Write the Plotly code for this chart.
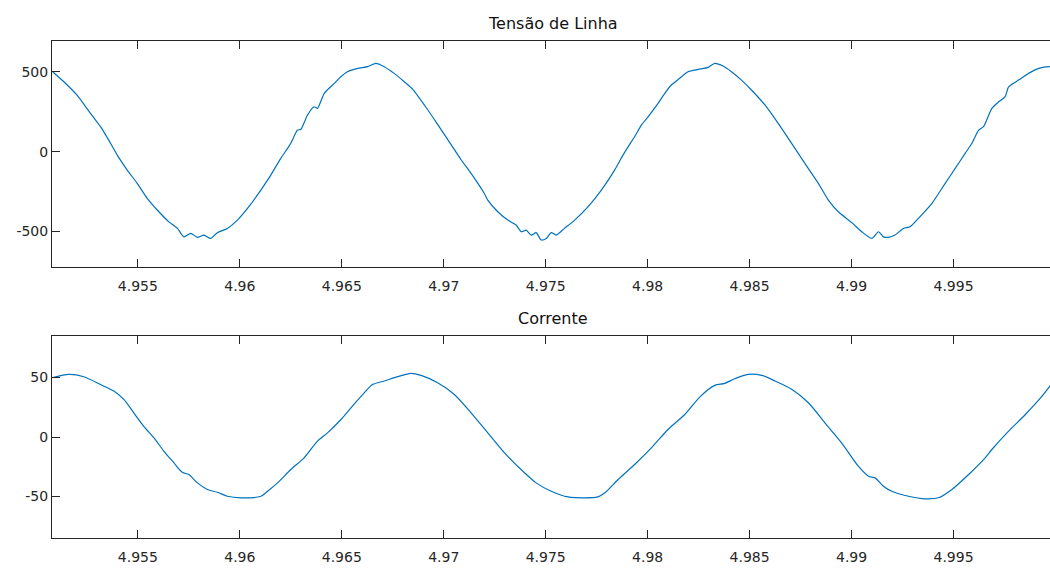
import plotly.graph_objects as go
from plotly.subplots import make_subplots

# Line voltage samples (time in s, voltage in V)
t_tensao = [
    4.95083, 4.95137, 4.95202, 4.95268, 4.95317, 4.95366, 4.95399, 4.95448, 4.95497, 4.95546,
    4.95595, 4.95652, 4.95694, 4.95726, 4.95759, 4.95792, 4.95824, 4.95857, 4.95890, 4.95939,
    4.95988, 4.96054, 4.96103, 4.96152, 4.96201, 4.96234, 4.96250, 4.96283, 4.96299, 4.96332,
    4.96364, 4.96381, 4.96414, 4.96463, 4.96487, 4.96528, 4.96578, 4.96627, 4.96667, 4.96708,
    4.96757, 4.96806, 4.96848, 4.96905, 4.96970, 4.97036, 4.97085, 4.97134, 4.97199, 4.97216,
    4.97265, 4.97314, 4.97355, 4.97380, 4.97404, 4.97429, 4.97453, 4.97478, 4.97503, 4.97527,
    4.97552, 4.97592, 4.97642, 4.97707, 4.97773, 4.97838, 4.97879, 4.97904, 4.97936, 4.97969,
    4.98002, 4.98051, 4.98084, 4.98116, 4.98157, 4.98198, 4.98248, 4.98297, 4.98329, 4.98370,
    4.98411, 4.98460, 4.98509, 4.98575, 4.98640, 4.98706, 4.98771, 4.98837, 4.98886, 4.98935,
    4.99001, 4.99050, 4.99099, 4.99132, 4.99156, 4.99181, 4.99213, 4.99255, 4.99287, 4.99328,
    4.99394, 4.99459, 4.99508, 4.99557, 4.99590, 4.99623, 4.99647, 4.99688, 4.99721, 4.99753,
    4.99770, 4.99819, 4.99868, 4.99918, 4.99967, 5.00000,
]
v_tensao = [
    500, 439, 355, 240, 157, 53, -21, -115, -198, -292,
    -365, -439, -480, -533, -511, -536, -522, -543, -507, -480,
    -428, -328, -240, -146, -41, 21, 53, 136, 140, 230,
    282, 272, 366, 428, 460, 501, 522, 533, 554, 533,
    491, 439, 391, 293, 172, 45, -50, -135, -261, -303,
    -376, -428, -459, -501, -491, -522, -507, -553, -543, -507,
    -522, -480, -428, -345, -240, -115, -21, 31, 94, 167,
    219, 303, 366, 418, 460, 501, 516, 529, 554, 537,
    501, 449, 387, 293, 178, 53, -73, -198, -303, -376,
    -444, -501, -543, -501, -533, -536, -522, -480, -470, -417,
    -323, -198, -104, -10, 53, 136, 157, 272, 313, 345,
    407, 449, 491, 522, 533, 528,
]

# Line current samples (time in s, current in A)
t_corrente = [
    4.95087, 4.95161, 4.95235, 4.95317, 4.95382, 4.95431, 4.95480, 4.95529, 4.95579, 4.95628,
    4.95677, 4.95718, 4.95750, 4.95792, 4.95841, 4.95890, 4.95939, 4.96004, 4.96103, 4.96136,
    4.96185, 4.96250, 4.96315, 4.96381, 4.96430, 4.96496, 4.96545, 4.96610, 4.96651, 4.96708,
    4.96774, 4.96839, 4.96889, 4.96970, 4.97052, 4.97134, 4.97216, 4.97298, 4.97396, 4.97453,
    4.97527, 4.97609, 4.97756, 4.97789, 4.97855, 4.97936, 4.98018, 4.98100, 4.98182, 4.98260,
    4.98329, 4.98378, 4.98427, 4.98493, 4.98559, 4.98624, 4.98706, 4.98788, 4.98869, 4.98951,
    4.99033, 4.99083, 4.99115, 4.99156, 4.99197, 4.99279, 4.99361, 4.99426, 4.99492, 4.99574,
    4.99655, 4.99688, 4.99770, 4.99852, 4.99934, 4.99979,
]
i_corrente = [
    50.0, 52.5, 50.6, 44.0, 38.5, 31.5, 20.3, 9.0, -0.7, -12.0,
    -21.7, -29.6, -31.5, -38.5, -44.0, -46.4, -49.7, -51.0, -49.7, -45.5,
    -38.5, -27.3, -17.5, -3.5, 3.5, 14.7, 24.5, 37.0, 44.0, 47.0,
    50.6, 53.4, 51.7, 45.5, 35.7, 20.3, 3.5, -13.3, -30.0, -38.5,
    -45.5, -50.3, -50.3, -47.0, -35.7, -23.1, -9.1, 6.3, 18.9, 34.3,
    43.3, 45.0, 48.9, 52.5, 51.7, 47.0, 40.0, 28.7, 11.9, -4.9,
    -24.5, -32.9, -34.3, -41.3, -45.5, -49.7, -51.9, -51.0, -44.0, -31.5,
    -17.5, -10.5, 4.9, 18.9, 34.3, 44.1,
]

# Axis settings
x_range = [4.95079, 4.99973]
x_tickvals = [4.955, 4.96, 4.965, 4.97, 4.975, 4.98, 4.985, 4.99, 4.995]
x_ticktext = ["4.955", "4.96", "4.965", "4.97", "4.975", "4.98", "4.985", "4.99", "4.995"]
v_range = [-720, 692]
v_tickvals = [-500, 0, 500]
i_range = [-85, 85]
i_tickvals = [-50, 0, 50]

line_color = "#0072BD"
axis_color = "#262626"
font_family = "DejaVu Sans"

fig = make_subplots(rows=2, cols=1)

fig.add_trace(go.Scatter(x=t_tensao, y=v_tensao, mode="lines",
                         line=dict(color=line_color, width=1.2, shape="spline",
                                   smoothing=0.6),
                         showlegend=False),
              row=1, col=1)
fig.add_trace(go.Scatter(x=t_corrente, y=i_corrente, mode="lines",
                         line=dict(color=line_color, width=1.2, shape="spline",
                                   smoothing=0.8),
                         showlegend=False),
              row=2, col=1)

H = 568.0
top_dom = [1 - 266.7 / H, 1 - 41.3 / H]
bot_dom = [1 - 538.3 / H, 1 - 335.7 / H]

xcommon = dict(range=x_range, tickvals=x_tickvals, ticktext=x_ticktext,
               ticks="inside", ticklen=8, tickwidth=1, tickcolor=axis_color,
               showline=True, linecolor=axis_color, linewidth=1, mirror="allticks",
               showgrid=False, zeroline=False, ticklabelstandoff=6,
               tickfont=dict(family=font_family, size=14, color=axis_color))
ycommon = dict(ticks="inside", ticklen=8, tickwidth=1, tickcolor=axis_color,
               showline=True, linecolor=axis_color, linewidth=1, mirror=False,
               showgrid=False, zeroline=False,
               tickfont=dict(family=font_family, size=14, color=axis_color))

fig.update_xaxes(**xcommon)
fig.update_yaxes(**ycommon)
fig.update_layout(
    xaxis=dict(domain=[0, 1], anchor="y"),
    xaxis2=dict(domain=[0, 1], anchor="y2"),
    yaxis=dict(domain=top_dom, range=v_range, tickvals=v_tickvals,
               ticktext=[str(v) for v in v_tickvals]),
    yaxis2=dict(domain=bot_dom, range=i_range, tickvals=i_tickvals,
                ticktext=[str(v) for v in i_tickvals]),
)

# Subplot titles
title_font = dict(family=font_family, size=16, color="#111111")
fig.add_annotation(text="Tensão de Linha", xref="paper", yref="paper",
                   x=0.502, y=1 - 24 / H, showarrow=False, font=title_font,
                   xanchor="center", yanchor="middle")
fig.add_annotation(text="Corrente", xref="paper", yref="paper",
                   x=0.502, y=1 - 318 / H, showarrow=False, font=title_font,
                   xanchor="center", yanchor="middle")

fig.update_layout(
    width=1050, height=568,
    margin=dict(l=52, r=0, t=0, b=0),
    paper_bgcolor="white", plot_bgcolor="white",
)

fig.write_html("out.html")
